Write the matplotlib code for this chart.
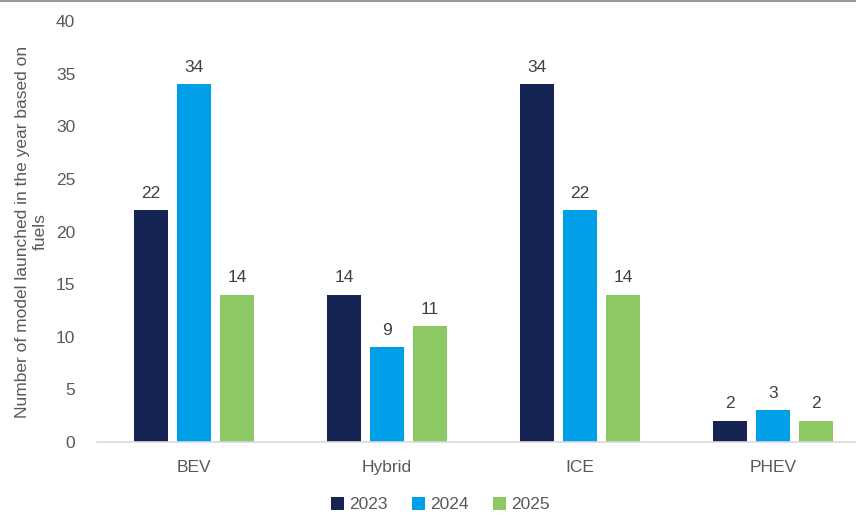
import matplotlib.pyplot as plt
import numpy as np

plt.rcParams['font.family'] = ['Liberation Sans', 'DejaVu Sans']

categories = ['BEV', 'Hybrid', 'ICE', 'PHEV']
years = ['2023', '2024', '2025']
v2023 = [22, 14, 34, 2]
v2024 = [34, 9, 22, 3]
v2025 = [14, 11, 14, 2]
colors = ['#162454', '#00a0e9', '#8cc864']

fig = plt.figure(figsize=(8.56, 5.15), dpi=100)
ax = fig.add_axes([97.5 / 856, (515 - 442) / 515, 772 / 856, 421 / 515])

x = np.arange(len(categories))
step = 0.223
width = 0.179
for i, (vals, c, yr) in enumerate(zip([v2023, v2024, v2025], colors, years)):
    bars = ax.bar(x + (i - 1) * step, vals, width, color=c, label=yr)
    for b, v in zip(bars, vals):
        ax.text(b.get_x() + b.get_width() / 2, v + 0.9, str(v),
                ha='center', va='bottom', fontsize=12.5, color='#404040')

ax.set_xlim(-0.5, 3.5)
ax.set_ylim(0, 40)
ax.set_yticks(range(0, 41, 5))
ax.set_xticks(x)
ax.set_xticklabels(categories)
ax.tick_params(axis='both', length=0, labelsize=12.5, colors='#595959')
ax.tick_params(axis='y', pad=16)
ax.tick_params(axis='x', pad=13)
for s in ['top', 'right', 'left']:
    ax.spines[s].set_visible(False)
ax.spines['bottom'].set_color('#d9d9d9')
ax.spines['bottom'].set_linewidth(1.2)

ax.set_ylabel('Number of model launched in the year based on\nfuels',
              fontsize=12.5, color='#595959', labelpad=6)

fig.legend(loc='lower center', bbox_to_anchor=(440 / 856, -0.025), ncol=3,
           frameon=False, fontsize=12.5, handlelength=0.75, handleheight=0.75,
           handletextpad=0.3, columnspacing=1.4, labelcolor='#595959')

fig.add_artist(plt.Line2D([0, 1], [0.999, 0.999], transform=fig.transFigure,
                          color='#999999', linewidth=1.5))

fig.savefig('out.png', dpi=100)
